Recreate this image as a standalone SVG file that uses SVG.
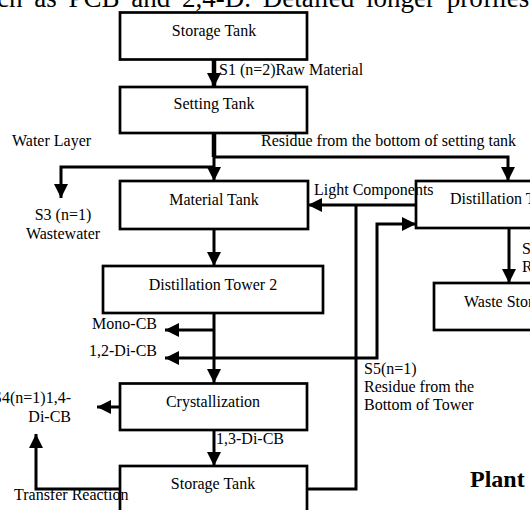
<svg xmlns="http://www.w3.org/2000/svg" width="530" height="510" viewBox="0 0 530 510">
<defs>
<marker id="ah" markerUnits="userSpaceOnUse" markerWidth="14" markerHeight="14" refX="14" refY="7" orient="auto" viewBox="0 0 14 14"><path d="M0,0 L14,7 L0,14 z" fill="#000"/></marker>
<style>
text{font-family:"Liberation Serif","Times New Roman",serif;font-size:16px;fill:#000}
.box{fill:#fff;stroke:#000;stroke-width:2.7}
.c{text-anchor:middle}
.e{text-anchor:end}
.ln{fill:none;stroke:#000;stroke-width:3}
.ar{marker-end:url(#ah)}
.top{font-size:27px;word-spacing:5px}
.bold{font-weight:bold;font-size:24px}
</style>
</defs>
<rect x="0" y="0" width="530" height="510" fill="#fff"/>
<text class="top" x="-27" y="6.5">such as PCB and 2,4-D. Detailed longer profiles of</text>

<g id="connectors">
<path class="ln ar" d="M214,59 V87" style="stroke-width:4.5"/>
<path class="ln ar" d="M214,133 V181"/>
<path class="ln" d="M214,133 V157" style="stroke-width:4.5"/>
<path class="ln ar" d="M214,157 H508 V181"/>
<path class="ln ar" d="M214,167 H61 V198"/>
<path class="ln ar" d="M214,229 V266"/>
<path class="ln ar" d="M416,205 H308"/>
<path class="ln" d="M307,489 H356 V205"/>
<path class="ln ar" d="M214,313 V383"/>
<path class="ln ar" d="M214,330 H165"/>
<path class="ln ar" d="M214,358 H165"/>
<path class="ln ar" d="M214,358 H377 V224 H416"/>
<path class="ln ar" d="M509,228 V283"/>
<path class="ln ar" d="M120,407 H97"/>
<path class="ln ar" d="M214,430 V466"/>
<path class="ln ar" d="M120,489 H36 V434"/>
</g>

<g id="storage_tank_1"><rect class="box" x="120" y="12.5" width="187" height="47"/><text class="c" x="214" y="36">Storage Tank</text></g>
<g id="setting_tank"><rect class="box" x="120" y="87" width="187" height="46"/><text class="c" x="214" y="109">Setting Tank</text></g>
<g id="material_tank"><rect class="box" x="120" y="181" width="188" height="48"/><text class="c" x="214" y="205">Material Tank</text></g>
<g id="distillation_tower_1"><rect class="box" x="416" y="181" width="200" height="47"/><text x="450" y="204">Distillation Tower 1</text></g>
<g id="distillation_tower_2"><rect class="box" x="103" y="266" width="220" height="47"/><text class="c" x="213" y="290">Distillation Tower 2</text></g>
<g id="waste_storage"><rect class="box" x="434" y="283" width="200" height="47"/><text x="464" y="307">Waste Storage Tank</text></g>
<g id="crystallization"><rect class="box" x="120" y="383.5" width="187" height="46.5"/><text class="c" x="213" y="407">Crystallization</text></g>
<g id="storage_tank_2"><rect class="box" x="120" y="466" width="187" height="60"/><text class="c" x="213" y="489">Storage Tank</text></g>

<g id="labels">
<text x="219" y="75">S1 (n=2)Raw Material</text>
<text x="12" y="146">Water Layer</text>
<text x="261" y="146">Residue from the bottom of setting tank</text>
<text class="c" x="63" y="220">S3 (n=1)</text>
<text class="c" x="63" y="239">Wastewater</text>
<text x="314" y="195">Light Components</text>
<text x="522" y="254">S2(n=1)</text>
<text x="522" y="272">Residue</text>
<text class="e" x="157" y="329">Mono-CB</text>
<text class="e" x="157" y="356">1,2-Di-CB</text>
<text x="364" y="374">S5(n=1)</text>
<text x="364" y="392">Residue from the</text>
<text x="364" y="410">Bottom of Tower</text>
<text class="e" x="71" y="403">S4(n=1)1,4-</text>
<text class="e" x="71" y="422">Di-CB</text>
<text x="216" y="444">1,3-Di-CB</text>
<text x="14" y="500">Transfer Reaction</text>
<text class="bold" x="470" y="487">Plant</text>
</g>
</svg>
